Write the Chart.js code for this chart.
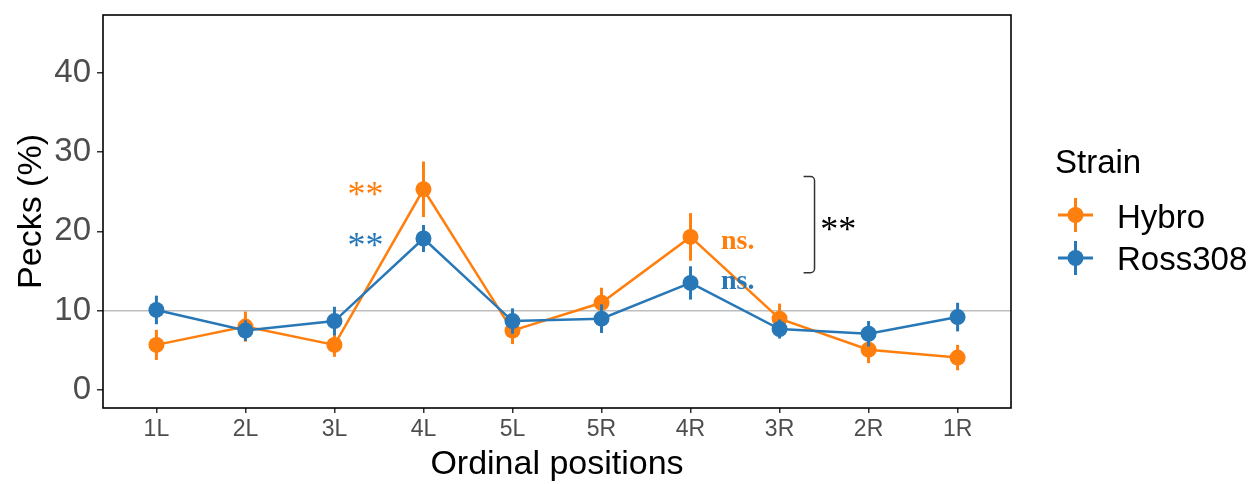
<!DOCTYPE html>
<html><head><meta charset="utf-8">
<script src="https://cdn.jsdelivr.net/npm/chart.js@4.4.1/dist/chart.umd.min.js"></script>
<style>html,body{margin:0;padding:0;background:#fff;overflow:hidden}#wrap{width:1258px;height:484px}</style>
</head><body><div id="wrap"><canvas id="c" width="1258" height="484"></canvas></div>
<script>
// ---- data ----
const categories = ['1L','2L','3L','4L','5L','5R','4R','3R','2R','1R'];
const hybro    = [5.7, 8.0, 5.7, 25.3, 7.5, 11.0, 19.3, 9.0, 5.1, 4.1];
const hybroErr = [1.9, 1.9, 1.5, 3.5, 1.7, 1.9, 3.0, 1.9, 1.7, 1.6];
const ross     = [10.1, 7.5, 8.7, 19.1, 8.7, 9.0, 13.5, 7.7, 7.1, 9.2];
const rossErr  = [1.8, 1.3, 1.8, 1.7, 1.6, 1.8, 2.1, 1.2, 1.6, 1.8];
const yTicks = [0, 10, 20, 30, 40];
const refLine = 10;
const seriesNames = ['Hybro', 'Ross308'];
const legendTitle = 'Strain';
const xTitle = 'Ordinal positions';
const yTitle = 'Pecks (%)';
// significance labels (x in category units, y = text baseline in data units)
const sigLabels = [
  {text:'**',  x:2.35, y:23.25, series:0, kind:'star'},
  {text:'**',  x:2.35, y:16.8, series:1, kind:'star'},
  {text:'ns.', x:6.53, y:17.8, series:0, kind:'ns'},
  {text:'ns.', x:6.53, y:12.7, series:1, kind:'ns'},
  {text:'**',  x:7.66, y:18.8, series:-1, kind:'star'}
];
const bracket = {x:7.393, xTick:7.27, yTop:26.9, yBottom:14.8};

// ---- styles ----
const COLORS = ['#FF7F0E', '#2878B8'];
const SANS = "'Liberation Sans', Arial, Helvetica, sans-serif";
const SERIF = "'Liberation Serif', 'Times New Roman', serif";

const errs = [hybroErr, rossErr];

const deco = {
  id: 'deco',
  beforeDatasetsDraw(chart) {
    const {ctx, chartArea: a, scales: {y}} = chart;
    const py = y.getPixelForValue(refLine);
    ctx.save();
    ctx.strokeStyle = '#BEBEBE'; ctx.lineWidth = 1.5;
    ctx.beginPath(); ctx.moveTo(a.left, py); ctx.lineTo(a.right, py); ctx.stroke();
    ctx.restore();
  },
  afterDatasetDraw(chart, args) {
    const {ctx, scales: {x, y}} = chart;
    const i = args.index;
    const ds = chart.data.datasets[i];
    const e = errs[i];
    ctx.save();
    ctx.strokeStyle = ds.borderColor; ctx.lineWidth = 3;
    ds.data.forEach((p, k) => {
      const px = x.getPixelForValue(p.x);
      ctx.beginPath();
      ctx.moveTo(px, y.getPixelForValue(p.y - e[k]));
      ctx.lineTo(px, y.getPixelForValue(p.y + e[k]));
      ctx.stroke();
    });
    ctx.restore();
  },
  afterDraw(chart) {
    const {ctx, chartArea: a, scales: {x, y}} = chart;
    ctx.save();
    // panel border
    ctx.strokeStyle = '#000'; ctx.lineWidth = 1.6;
    ctx.strokeRect(a.left, a.top, a.right - a.left, a.bottom - a.top);
    // significance labels
    sigLabels.forEach(l => {
      ctx.fillStyle = l.series < 0 ? '#000' : COLORS[l.series];
      ctx.font = l.kind === 'ns' ? 'bold 28px ' + SERIF : '36px ' + SERIF;
      ctx.textAlign = 'center'; ctx.textBaseline = 'alphabetic';
      ctx.fillText(l.text, x.getPixelForValue(l.x), y.getPixelForValue(l.y));
    });
    // bracket
    const bx = x.getPixelForValue(bracket.x), bt = x.getPixelForValue(bracket.xTick);
    const yt = y.getPixelForValue(bracket.yTop), yb = y.getPixelForValue(bracket.yBottom);
    ctx.strokeStyle = '#333'; ctx.lineWidth = 1.5;
    ctx.beginPath();
    ctx.moveTo(bt, yt); ctx.arcTo(bx, yt, bx, yt + 10, 4);
    ctx.arcTo(bx, yb, bt, yb, 4); ctx.lineTo(bt, yb);
    ctx.stroke();
    // axis titles
    ctx.fillStyle = '#000';
    ctx.font = '34px ' + SANS;
    ctx.textAlign = 'center'; ctx.textBaseline = 'alphabetic';
    ctx.fillText(xTitle, (a.left + a.right) / 2, 474);
    ctx.save();
    ctx.translate(41, (a.top + a.bottom) / 2);
    ctx.rotate(-Math.PI / 2);
    ctx.fillText(yTitle, 0, 0);
    ctx.restore();
    // legend
    ctx.textAlign = 'left';
    ctx.font = '33px ' + SANS;
    ctx.fillText(legendTitle, 1055, 173);
    const ly = [215, 258], lb = [228, 270];
    seriesNames.forEach((n, i) => {
      ctx.strokeStyle = COLORS[i]; ctx.fillStyle = COLORS[i]; ctx.lineWidth = 3;
      ctx.beginPath();
      ctx.moveTo(1058, ly[i]); ctx.lineTo(1093, ly[i]);
      ctx.moveTo(1075.5, ly[i] - 17); ctx.lineTo(1075.5, ly[i] + 17);
      ctx.stroke();
      ctx.beginPath(); ctx.arc(1075.5, ly[i], 8, 0, Math.PI * 2); ctx.fill();
      ctx.fillStyle = '#000';
      ctx.fillText(n, 1117, lb[i]);
    });
    ctx.restore();
  }
};

const mk = (label, vals, color, order) => ({
  label, order,
  data: vals.map((v, i) => ({x: i, y: v})),
  borderColor: color, backgroundColor: color,
  pointBackgroundColor: color, pointBorderWidth: 0,
  pointRadius: 8, borderWidth: 2.5, tension: 0
});

new Chart(document.getElementById('c'), {
  type: 'line',
  data: {datasets: [mk(seriesNames[0], hybro, COLORS[0], 2), mk(seriesNames[1], ross, COLORS[1], 1)]},
  options: {
    responsive: false, animation: false, devicePixelRatio: 1,
    layout: {padding: {top: 15, right: 247, left: 0, bottom: 0}},
    plugins: {legend: {display: false}, tooltip: {enabled: false}},
    scales: {
      x: {
        type: 'linear', min: -0.6, max: 9.6,
        afterBuildTicks: s => { s.ticks = categories.map((c, i) => ({value: i})); },
        afterFit: s => { s.height = 76; s.paddingLeft = 0; s.paddingRight = 0; },
        ticks: {callback: v => categories[v], autoSkip: false, maxRotation: 0,
                color: '#4D4D4D', font: {family: SANS, size: 23}, padding: 3},
        grid: {display: true, drawOnChartArea: false, drawTicks: true, tickLength: 5, color: '#333', lineWidth: 1.5},
        border: {display: false}
      },
      y: {
        type: 'linear', min: -2.25, max: 47.25,
        afterBuildTicks: s => { s.ticks = yTicks.map(v => ({value: v})); },
        afterFit: s => { s.width = 103; s.paddingTop = 0; s.paddingBottom = 0; },
        ticks: {color: '#4D4D4D', font: {family: SANS, size: 33}, padding: 6},
        grid: {display: true, drawOnChartArea: false, drawTicks: true, tickLength: 6, color: '#333', lineWidth: 1.5},
        border: {display: false}
      }
    }
  },
  plugins: [deco]
});
</script></body></html>
